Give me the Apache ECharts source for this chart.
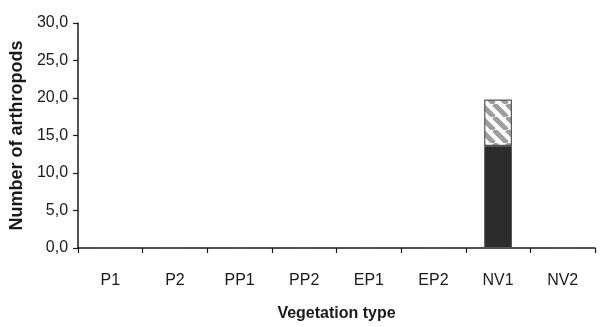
<!DOCTYPE html>
<html>
<head>
<meta charset="utf-8">
<script src="https://cdn.jsdelivr.net/npm/echarts@6/dist/echarts.min.js"></script>
<style>
  html, body { margin: 0; padding: 0; background: #fff; }
  #chart { width: 603px; height: 327px; }
</style>
</head>
<body>
<div id="chart"></div>
<script>
// Vegetation types on the x axis
const categories = ['P1', 'P2', 'PP1', 'PP2', 'EP1', 'EP2', 'NV1', 'NV2'];
// Stacked arthropod counts per vegetation type
const solidPart = [0, 0, 0, 0, 0, 0, 13.6, 0];
const hatchedPart = [0, 0, 0, 0, 0, 0, 6.2, 0];
// Y axis scale
const yMin = 0, yMax = 30, yStep = 5;

// Diagonal hatch tile for the upper segment
function hatchPattern() {
  const s = 13;
  const c = document.createElement('canvas');
  c.width = s; c.height = s;
  const g = c.getContext('2d');
  g.fillStyle = '#ffffff';
  g.fillRect(0, 0, s, s);
  g.strokeStyle = '#9e9e9e';
  g.lineWidth = 5;
  for (const o of [-s, 0, s]) {
    g.beginPath();
    g.moveTo(o, 0);
    g.lineTo(o + s, s);
    g.stroke();
  }
  return c;
}

const font = "'Liberation Sans', Arial, sans-serif";
const chart = echarts.init(document.getElementById('chart'), null, { renderer: 'canvas' });
chart.setOption({
  animation: false,
  backgroundColor: '#ffffff',
  grid: { left: 77, right: 8, top: 23, bottom: 78 },
  xAxis: {
    type: 'category',
    data: categories,
    boundaryGap: true,
    name: 'Vegetation type',
    nameLocation: 'middle',
    nameGap: 58,
    nameTextStyle: { fontFamily: font, fontSize: 16, fontWeight: 'bold', color: '#1a1a1a' },
    axisLine: { lineStyle: { color: '#1a1a1a', width: 1.5 } },
    axisTick: { show: true, alignWithLabel: false, length: 5, lineStyle: { color: '#1a1a1a', width: 1.2 } },
    axisLabel: { margin: 25, fontFamily: font, fontSize: 16, color: '#1a1a1a', interval: 0 },
    splitLine: { show: false }
  },
  yAxis: {
    type: 'value',
    min: yMin, max: yMax, interval: yStep,
    name: 'Number of arthropods',
    nameLocation: 'middle',
    nameGap: 47,
    nameTextStyle: { fontFamily: font, fontSize: 18, fontWeight: 'bold', color: '#1a1a1a' },
    axisLine: { show: true, lineStyle: { color: '#1a1a1a', width: 1.5 } },
    axisTick: { show: true, length: 5, lineStyle: { color: '#1a1a1a', width: 1.2 } },
    axisLabel: {
      margin: 10, fontFamily: font, fontSize: 16, color: '#1a1a1a',
      formatter: v => v.toFixed(1).replace('.', ',')
    },
    splitLine: { show: false }
  },
  series: [
    {
      type: 'bar', stack: 'total', data: solidPart, barWidth: '43%',
      itemStyle: { color: '#2c2c2c', borderColor: '#555555', borderWidth: 1 }
    },
    {
      type: 'bar', stack: 'total', data: hatchedPart, barWidth: '43%',
      itemStyle: { color: { image: hatchPattern(), repeat: 'repeat' }, borderColor: '#555555', borderWidth: 1.2 }
    }
  ]
});
</script>
</body>
</html>
